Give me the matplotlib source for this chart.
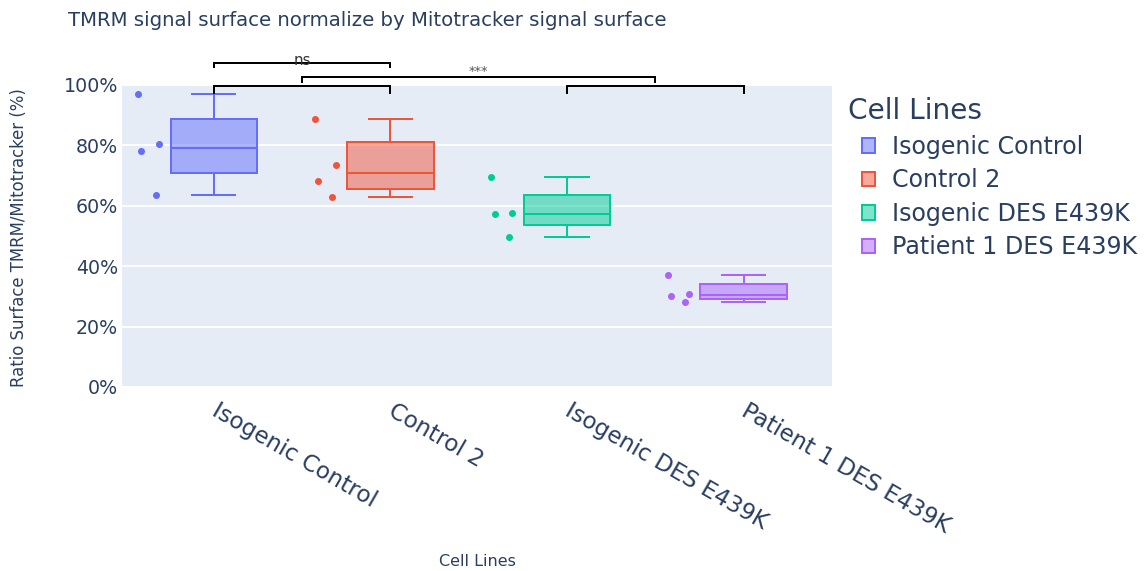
import numpy as np
import matplotlib
matplotlib.use("Agg")
import matplotlib.pyplot as plt
from matplotlib.patches import Patch
from matplotlib.ticker import FuncFormatter
import matplotlib.transforms as mtransforms

# ---------------- data ----------------
categories = ["Isogenic Control", "Control 2", "Isogenic DES E439K", "Patient 1 DES E439K"]
isogenic_control = [97.0, 80.5, 78.0, 63.5]
control_2 = [88.7, 73.5, 68.2, 62.9]
isogenic_des = [69.4, 57.5, 57.3, 49.7]
patient_1_des = [37.2, 30.8, 30.0, 28.2]
series = [isogenic_control, control_2, isogenic_des, patient_1_des]

y_ticks = [0, 20, 40, 60, 80, 100]

# significance labels
sig_labels = ["ns", "***"]

# ---------------- style ----------------
colors = ["#636efa", "#EF553B", "#00cc96", "#ab63fa"]
point_offsets = [-0.43, -0.31, -0.41, -0.33]  # deterministic jitter
text_color = "#2a3f5f"
bg = "#E5ECF6"
plt.rcParams["font.family"] = ["DejaVu Sans"]

W, H = 1148, 571
fig = plt.figure(figsize=(W / 100, H / 100), dpi=100)

def px(v):
    return v * 72 / 100  # pixels -> points

left, right, top, bottom = 122, 832, 85, 387
ax = fig.add_axes([left / W, 1 - bottom / H, (right - left) / W, (bottom - top) / H])
ax.set_facecolor(bg)
for s in ax.spines.values():
    s.set_visible(False)

ax.set_xlim(-0.52, 3.5)
ax.set_ylim(0, 100)
ax.set_yticks(y_ticks)
ax.yaxis.set_major_formatter(FuncFormatter(lambda v, p: f"{v:.0f}%"))
ax.grid(axis="y", color="white", linewidth=1.3)
ax.set_axisbelow(True)
ax.tick_params(axis="both", length=0, colors=text_color)
ax.tick_params(axis="y", pad=3, labelsize=px(19))
ax.tick_params(axis="x", labelsize=px(23))

# box stats (Hazen quartiles, like plotly's default)
stats = []
for vals in series:
    a = np.asarray(vals)
    q1, med, q3 = np.percentile(a, [25, 50, 75], method="hazen")
    iqr = q3 - q1
    lo = a[a >= q1 - 1.5 * iqr].min()
    hi = a[a <= q3 + 1.5 * iqr].max()
    stats.append(dict(med=med, q1=q1, q3=q3, whislo=lo, whishi=hi, fliers=[]))

positions = np.arange(len(categories))
for i, (st, c) in enumerate(zip(stats, colors)):
    ax.bxp([st], positions=[positions[i]], widths=0.49, patch_artist=True,
           showfliers=False,
           boxprops=dict(facecolor=matplotlib.colors.to_rgba(c, 0.5), edgecolor=c, linewidth=px(2)),
           medianprops=dict(color=c, linewidth=px(2)),
           whiskerprops=dict(color=c, linewidth=px(2)),
           capprops=dict(color=c, linewidth=px(2)),
           manage_ticks=False)
    xs = positions[i] + np.array(point_offsets)
    ax.plot(xs, series[i], "o", color=c, markersize=px(7), markeredgewidth=0, linestyle="none")

ax.set_xticks(positions)
ax.set_xticklabels(categories, rotation=-30, ha="left", va="center", rotation_mode="anchor")
ax.tick_params(axis="x", pad=16)

ax.set_xlabel("Cell Lines", color=text_color, fontsize=px(16))
ax.xaxis.label.set_va("center")
ax.xaxis.set_label_coords((477 - left) / (right - left), -(562 - bottom) / (bottom - top))
ax.set_ylabel("Ratio Surface TMRM/Mitotracker (%)", color=text_color, fontsize=px(16.5))
ax.yaxis.label.set_va("center")
ax.yaxis.set_label_coords(-(left - 19) / (right - left), (bottom - 238) / (bottom - top))

# significance brackets
trans = mtransforms.blended_transform_factory(ax.transData, ax.transAxes)
lw = px(2)
def bracket(x0, x1, y, drop):
    ax.plot([x0, x0, x1, x1], [y - drop, y, y, y - drop], color="black", lw=lw,
            transform=trans, clip_on=False, solid_joinstyle="miter")

# lower pair brackets
bracket(positions[0], positions[1], 0.997, 0.023)
bracket(positions[2], positions[3], 0.997, 0.023)
# ns bracket
bracket(positions[0], positions[1], 1.073, 0.012)
ax.text((positions[0] + positions[1]) / 2, 1.08, sig_labels[0], transform=trans,
        ha="center", va="center", fontsize=px(15), color="#333333")
# *** bracket between group midpoints
m1 = (positions[0] + positions[1]) / 2
m2 = (positions[2] + positions[3]) / 2
bracket(m1, m2, 1.027, 0.016)
ax.text((m1 + m2) / 2, 1.044, sig_labels[1], transform=trans,
        ha="center", va="center", fontsize=px(13), color="#555555")

# title
fig.text(68 / W, 1 - 20 / H, "TMRM signal surface normalize by Mitotracker signal surface",
         ha="left", va="center", color=text_color, fontsize=px(19.8))

# legend
fig.text(848 / W, 1 - 111 / H, "Cell Lines", ha="left", va="center",
         color=text_color, fontsize=px(28))
handles = [Patch(facecolor=matplotlib.colors.to_rgba(c, 0.5), edgecolor=c, linewidth=px(2)) for c in colors]
leg = fig.legend(handles, categories, loc="upper left",
                 bbox_to_anchor=(862 / W, 1 - 135 / H), frameon=False,
                 fontsize=px(23.7), labelspacing=0.4, borderaxespad=0,
                 handlelength=0.55, handleheight=0.55, handletextpad=0.72, borderpad=0)
for t in leg.get_texts():
    t.set_color(text_color)

fig.savefig("out.png", dpi=100)
